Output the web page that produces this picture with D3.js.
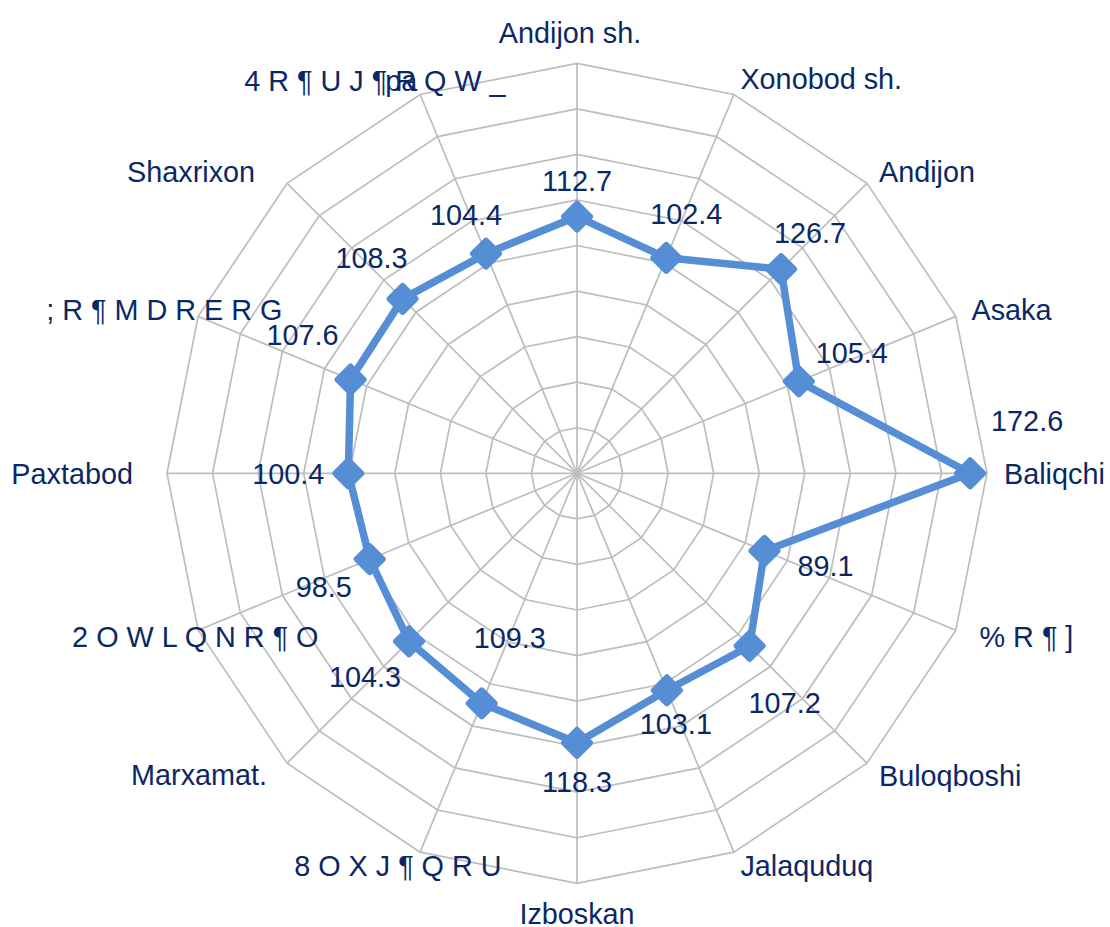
<!DOCTYPE html>
<html>
<head>
<meta charset="utf-8">
<script src="https://cdn.jsdelivr.net/npm/d3@7"></script>
<style>
  body { margin: 0; background: #fff; }
  text { font-family: "Liberation Sans", Arial, sans-serif; fill: #0b2866; }
</style>
</head>
<body>
<div id="chart"></div>
<script>
// data
var categories = ["Andijon sh.", "Xonobod sh.", "Andijon", "Asaka", "Baliqchi", "% R \u00b6 ]",
  "Buloqboshi", "Jalaquduq", "Izboskan", "8 O X J \u00b6 Q R U", "Marxamat.",
  "2 O W L Q N R \u00b6 O", "Paxtabod", "; R \u00b6 M D R E R G", "Shaxrixon",
  "4 R \u00b6 U J \u00b6 R Q W _"];
var values = [112.7, 102.4, 126.7, 105.4, 172.6, 89.1, 107.2, 103.1, 118.3, 109.3,
  104.3, 98.5, 100.4, 107.6, 108.3, 104.4];
var tickValues = [20, 40, 60, 80, 100, 120, 140, 160, 180];

var svgWidth = 1110;
var svgHeight = 927;
var cx = 577, cy = 473.3;
var outerR = 410;
var fontSize = 28.8;

// label nudges (layout only)
var catNudge = [[-7, 0], [0, 0], [0, 0], [0, 0], [0, 0], [8, 0], [0, 0], [0, -2],
  [0, -1], [88, -2], [-8, -1], [136, 0], [-17, 0], [100, 0], [-20, 0], [92, 2]];
var valOffset = [[0, -36], [20, -44], [29, -37], [53, -29], [57, -53], [61, 15],
  [35, 57], [9, 33], [0, 39], [28, -66], [-44, 35], [-46, 28], [-60, 0],
  [-48, -45], [-31, -41], [-20, -39]];

var svg = d3.select("#chart")
  .append("svg")
  .attr("width", svgWidth)
  .attr("height", svgHeight);

var g = svg.append("g")
  .attr("transform", `translate(${cx}, ${cy})`);

var n = categories.length;
var angle = i => i * 2 * Math.PI / n;

var rScale = d3.scaleLinear()
  .domain([0, 180])
  .range([0, outerR]);

// grid rings
var ringLine = d3.lineRadial()
  .angle((d, i) => angle(i))
  .radius(d => rScale(d))
  .curve(d3.curveLinearClosed);

g.selectAll(".ring")
  .data(tickValues)
  .enter()
  .append("path")
  .attr("class", "ring")
  .attr("d", t => ringLine(categories.map(() => t)))
  .attr("fill", "none")
  .attr("stroke", "#bdbdbd")
  .attr("stroke-width", 1.7);

// spokes
g.selectAll(".spoke")
  .data(categories)
  .enter()
  .append("line")
  .attr("class", "spoke")
  .attr("x1", 0)
  .attr("y1", 0)
  .attr("x2", (d, i) => rScale(180) * Math.sin(angle(i)))
  .attr("y2", (d, i) => -rScale(180) * Math.cos(angle(i)))
  .attr("stroke", "#bdbdbd")
  .attr("stroke-width", 1.7);

// series line
var dataLine = d3.lineRadial()
  .angle((d, i) => angle(i))
  .radius(d => rScale(d))
  .curve(d3.curveLinearClosed);

g.append("path")
  .datum(values)
  .attr("d", dataLine)
  .attr("fill", "none")
  .attr("stroke", "#558ed5")
  .attr("stroke-width", 7.5)
  .attr("stroke-linejoin", "round");

// diamond markers
var px = (v, i) => rScale(v) * Math.sin(angle(i));
var py = (v, i) => -rScale(v) * Math.cos(angle(i));
var dm = 13;

g.selectAll(".marker")
  .data(values)
  .enter()
  .append("path")
  .attr("class", "marker")
  .attr("d", `M0,${-dm}L${dm},0L0,${dm}L${-dm},0Z`)
  .attr("transform", (d, i) => `translate(${px(d, i)}, ${py(d, i)})`)
  .attr("fill", "#558ed5")
  .attr("stroke", "#558ed5")
  .attr("stroke-width", 6)
  .attr("stroke-linejoin", "round");

// value labels
g.selectAll(".vlabel")
  .data(values)
  .enter()
  .append("text")
  .attr("class", "vlabel")
  .attr("x", (d, i) => px(d, i) + valOffset[i][0])
  .attr("y", (d, i) => py(d, i) + valOffset[i][1] + 10.3)
  .attr("text-anchor", "middle")
  .style("font-size", fontSize + "px")
  .text(d => d.toFixed(1));

// category labels
var labelR = outerR + 17;
var catLabels = g.selectAll(".clabel")
  .data(categories)
  .enter()
  .append("text")
  .attr("class", "clabel")
  .attr("x", (d, i) => labelR * Math.sin(angle(i)) + catNudge[i][0])
  .attr("y", function (d, i) {
    var y = -labelR * Math.cos(angle(i));
    if (i === 0) y -= 14;
    if (i === n / 2) y += 14;
    return y + 10.3 + catNudge[i][1];
  })
  .attr("text-anchor", function (d, i) {
    if (i === 0 || i === n / 2) return "middle";
    return i < n / 2 ? "start" : "end";
  })
  .style("font-size", fontSize + "px")
  .text(d => d);

// stray overlapping glyphs seen on the last label
var last = catLabels.filter((d, i) => i === n - 1).node().getBBox();
g.append("text")
  .attr("x", last.x + 141)
  .attr("y", -labelR * Math.cos(angle(n - 1)) + 10.3 + catNudge[n - 1][1])
  .style("font-size", fontSize + "px")
  .text("pa");
</script>
</body>
</html>
